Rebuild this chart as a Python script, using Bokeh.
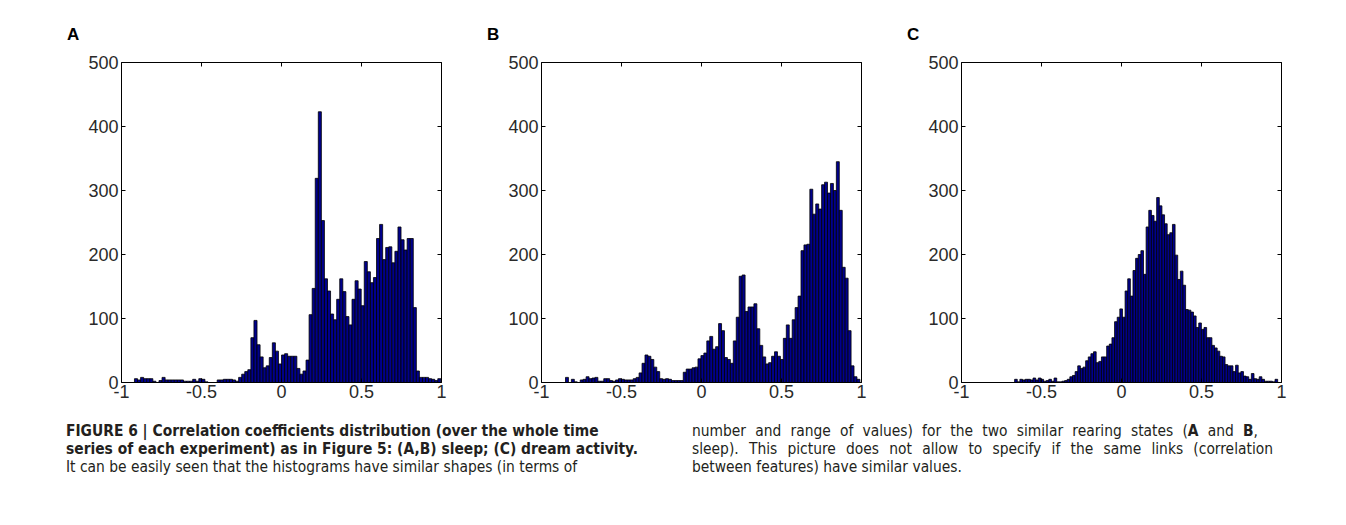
import numpy as np
from bokeh.plotting import figure
from bokeh.models import Range1d, LinearAxis, FixedTicker, CustomJSTickFormatter, Div, Spacer
from bokeh.layouts import row, column
from bokeh.embed import file_html
from bokeh.resources import INLINE

# ---------------- data ----------------
panel_labels = ["A", "B", "C"]

# each histogram: 100 equal bins between the data minimum and maximum
a_range = [-0.919, 0.996]
b_range = [-0.850, 0.990]
c_range = [-0.668, 0.976]

a_counts = [6, 4, 8, 6, 6, 6, 2, 0, 3, 8,
            4, 4, 4, 4, 4, 4, 2, 2, 2, 5,
            2, 6, 5, 1, 0, 0, 0, 4, 4, 5,
            5, 5, 4, 2, 8, 13, 17, 20, 70, 97,
            59, 40, 23, 26, 39, 62, 49, 29, 43, 45,
            41, 41, 41, 22, 13, 18, 35, 106, 147, 319,
            423, 253, 162, 143, 107, 98, 130, 162, 142, 103,
            90, 130, 159, 146, 120, 189, 173, 156, 164, 225,
            247, 192, 211, 212, 187, 205, 243, 223, 207, 225,
            225, 117, 18, 8, 8, 8, 6, 5, 3, 6]

b_counts = [8, 0, 5, 1, 0, 4, 5, 9, 6, 7,
            8, 2, 2, 6, 6, 3, 2, 4, 6, 5,
            4, 4, 4, 6, 8, 15, 30, 43, 41, 36,
            24, 17, 6, 5, 6, 5, 3, 3, 3, 3,
            16, 21, 21, 23, 24, 37, 42, 46, 65, 72,
            52, 56, 92, 81, 39, 36, 30, 65, 102, 166,
            168, 111, 118, 118, 123, 84, 58, 40, 29, 31,
            41, 48, 41, 36, 69, 90, 69, 98, 117, 135,
            206, 215, 216, 302, 263, 279, 271, 309, 313, 296,
            311, 300, 345, 269, 180, 163, 81, 26, 9, 5]

c_counts = [5, 1, 5, 4, 5, 5, 4, 7, 4, 7,
            5, 2, 3, 5, 2, 7, 1, 1, 2, 3,
            5, 9, 11, 17, 26, 22, 24, 34, 40, 45,
            48, 31, 33, 40, 40, 57, 60, 70, 95, 102,
            115, 102, 143, 162, 135, 175, 194, 200, 206, 169,
            243, 269, 261, 252, 289, 276, 262, 248, 231, 234,
            247, 199, 161, 174, 152, 114, 113, 110, 104, 86,
            93, 83, 86, 70, 70, 58, 54, 49, 41, 40,
            28, 26, 26, 17, 27, 15, 17, 10, 9, 5,
            14, 6, 5, 9, 5, 2, 2, 2, 1, 5]

x_ticks = [-1, -0.5, 0, 0.5, 1]
x_tick_labels = ["-1", "-0.5", "0", "0.5", "1"]
y_ticks = [0, 100, 200, 300, 400, 500]
y_tick_labels = ["0", "100", "200", "300", "400", "500"]

caption_left_lines = [
    "<b>FIGURE 6 | Correlation coefficients distribution (over the whole time</b>",
    "<b>series of each experiment) as in Figure 5: (A,B) sleep; (C) dream activity.</b>",
    "It can be easily seen that the histograms have similar shapes (in terms of",
]
caption_right_lines = [
    "number and range of values) for the two similar rearing states (<b>A</b> and <b>B</b>,",
    "sleep). This picture does not allow to specify if the same links (correlation",
    "between features) have similar values.",
]

# ---------------- plotting ----------------
TICK_FONT = "Liberation Sans"
BLANK = CustomJSTickFormatter(code="return ''")


def style_axis(ax, ticks, labels, show_labels):
    ax.ticker = FixedTicker(ticks=ticks)
    if show_labels:
        ax.major_label_overrides = {t: l for t, l in zip(ticks, labels)}
    else:
        ax.formatter = BLANK
        ax.major_label_standoff = 0
    ax.major_tick_in = 4
    ax.major_tick_out = 0
    ax.minor_tick_in = 0
    ax.minor_tick_out = 0
    ax.axis_line_color = "black"
    ax.axis_line_width = 1
    ax.major_tick_line_color = "black"
    ax.major_label_text_font = TICK_FONT
    ax.major_label_text_font_size = "18px"
    ax.major_label_text_color = "#2a2a2a"


def make_hist(rng, counts):
    p = figure(width=420, height=362, x_range=Range1d(-1, 1), y_range=Range1d(0, 500),
               output_backend="svg", toolbar_location=None,
               min_border_left=90, min_border_right=10, min_border_top=18, min_border_bottom=24)
    p.grid.visible = False
    p.outline_line_color = None
    p.background_fill_color = "white"
    p.border_fill_color = "white"

    edges = np.linspace(rng[0], rng[1], len(counts) + 1)
    p.quad(left=edges[:-1], right=edges[1:], bottom=0, top=counts,
           fill_color="#00008c", line_color="black", line_width=0.8)

    style_axis(p.xaxis[0], x_ticks, x_tick_labels, True)
    p.xaxis[0].major_label_standoff = 2
    style_axis(p.yaxis[0], y_ticks, y_tick_labels, True)
    p.yaxis[0].major_label_standoff = 3

    top = LinearAxis()
    style_axis(top, x_ticks, x_tick_labels, False)
    p.add_layout(top, "above")
    right = LinearAxis()
    style_axis(right, y_ticks, y_tick_labels, False)
    p.add_layout(right, "right")
    return p


figs = [make_hist(rng, cnt) for rng, cnt in
        zip([a_range, b_range, c_range], [a_counts, b_counts, c_counts])]

# panel letters (above each frame, left of it)
lab_html = "".join(
    f'<div style="position:absolute;top:25px;left:{67 + 420 * i}px;'
    f'font-family:&quot;Liberation Sans&quot;,Arial,sans-serif;font-weight:bold;'
    f'font-size:17px;line-height:20px;color:#000;">{t}</div>'
    for i, t in enumerate(panel_labels))
header = Div(text=f'<div style="position:relative;width:1346px;height:44px;">{lab_html}</div>',
             width=1346, height=44, margin=0)

# caption in two columns
FONT = "font-family:&quot;Liberation Sans Narrow&quot;,&quot;DejaVu Sans Condensed&quot;,sans-serif;"


def cap_line(text, left, top, width=None):
    just = ""
    if width is not None:
        just = f"width:{width}px;text-align:justify;text-align-last:justify;"
    return (f'<div style="position:absolute;left:{left}px;top:{top}px;white-space:nowrap;'
            f'{FONT}font-size:15.4px;line-height:18px;color:#231f20;{just}">{text}</div>')


cap_html = ""
for k, t in enumerate(caption_left_lines):
    cap_html += cap_line(t, 66, 16 + 18 * k)
right_widths = [566, 581, None]
for k, (t, w) in enumerate(zip(caption_right_lines, right_widths)):
    cap_html += cap_line(t, 692, 16 + 18 * k, w)

caption = Div(text=f'<div style="position:relative;width:1346px;height:119px;">{cap_html}</div>',
              width=1346, height=119, margin=0)

layout = column(header, row(Spacer(width=31, height=362), *figs), caption)

open("out.html", "w").write(file_html(layout, INLINE))
